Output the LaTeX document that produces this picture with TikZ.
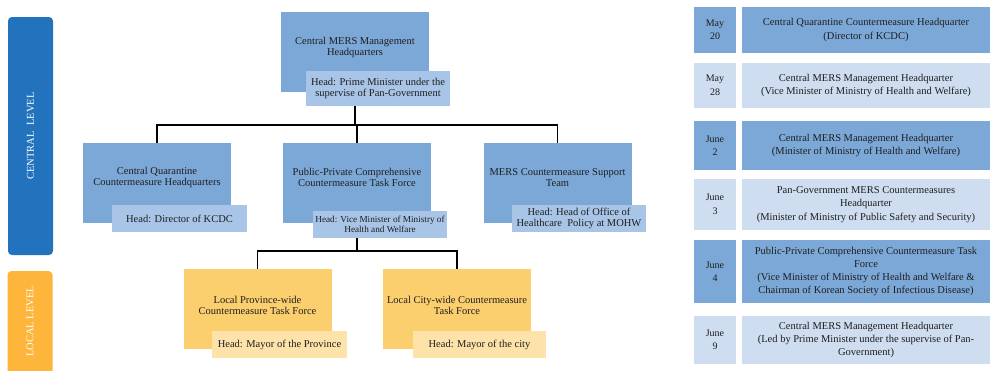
\documentclass[tikz,border=0pt]{standalone}
\usepackage{fontspec}
\setmainfont{Liberation Serif}
\definecolor{mainblue}{HTML}{7CA8D8}
\definecolor{headblue}{HTML}{A8C5E7}
\definecolor{lightrow}{HTML}{CEDDF0}
\definecolor{mainorange}{HTML}{FCCF6E}
\definecolor{headorange}{HTML}{FDE3AA}
\definecolor{sideblue}{HTML}{2372BE}
\definecolor{sideorange}{HTML}{FDB53B}
\definecolor{textc}{HTML}{1E1E1E}
\begin{document}
\begin{tikzpicture}[x=1pt,y=-1pt,
  mainbox/.style={draw=none,fill=mainblue,minimum width=148pt,minimum height=80pt,inner sep=0pt},
  orangebox/.style={mainbox,fill=mainorange},
  txt/.style={align=center,text=textc,inner sep=0pt,font=\fontsize{10.5}{11}\selectfont},
  headbox/.style={fill=headblue,inner sep=0pt,align=center,text=textc,minimum width=134pt,minimum height=27pt,font=\fontsize{10.5}{11.7}\selectfont},
  orangehead/.style={headbox,fill=headorange},
  sidebar/.style={draw=none,rounded corners=4pt,minimum width=45pt,inner sep=0pt},
  sidetxt/.style={rotate=90,text=white,inner sep=0pt,font=\fontsize{10.5}{12}\selectfont},
  datecell/.style={inner sep=0pt,minimum width=42pt,align=center,text=textc,font=\fontsize{10}{13.5}\selectfont},
  desccell/.style={inner sep=0pt,minimum width=248pt,align=center,text=textc,font=\fontsize{10.5}{13.3}\selectfont},
  conn/.style={line width=1.5pt,black}]
\clip (0,0) rectangle (990,370);
\fill[white] (0,0) rectangle (990,370);

% side bars
\node[sidebar,fill=sideblue,minimum height=238pt] (cbar) at (30.5,136) {};
\node[sidetxt] (ctxt) at (30.5,136) {CENTRAL\ \ LEVEL};
\node[sidebar,fill=sideorange,minimum height=109pt] (lbar) at (30,325.5) {};
\node[sidetxt] (ltxt) at (30,321.5) {LOCAL LEVEL};

% tree boxes
\node[mainbox] (top) at (355,52) {};
\node[txt] (toptxt) at (355,47) {Central MERS Management\\Headquarters};
\node[headbox,minimum width=144pt,minimum height=35pt] (tophead) at (378,88.5) {Head: Prime Minister under the\\supervise of Pan-Government};

\node[mainbox] (cq) at (157,183) {};
\node[txt] (cqtxt) at (157,177) {Central Quarantine\\Countermeasure Headquarters};
\node[headbox,minimum width=135pt] (cqhead) at (179.5,218.5) {Head: Director of KCDC};

\node[mainbox] (pp) at (357,183) {};
\node[txt] (pptxt) at (357,177) {Public-Private Comprehensive\\Countermeasure Task Force};
\node[headbox,font=\fontsize{9.2}{9.5}\selectfont] (pphead) at (380,224.5) {Head: Vice Minister of Ministry of\\Health and Welfare};

\node[mainbox] (ms) at (557.5,183) {};
\node[txt] (mstxt) at (557.5,177.5) {MERS Countermeasure Support\\Team};
\node[headbox] (mshead) at (579,218.5) {Head: Head of Office of\\Healthcare\ \ Policy at MOHW};

\node[orangebox] (lp) at (257.5,309) {};
\node[txt] (lptxt) at (257.5,305) {Local Province-wide\\Countermeasure Task Force};
\node[orangehead,minimum width=135pt] (lphead) at (279.5,344.5) {Head: Mayor of the Province};

\node[orangebox] (lc) at (457,309) {};
\node[txt] (lctxt) at (457,305) {Local City-wide Countermeasure\\Task Force};
\node[orangehead,minimum width=133pt] (lchead) at (479.5,344.5) {Head: Mayor of the city};

% connectors
\coordinate (j1) at (356,125);
\coordinate (j2) at (357,251);
\draw[conn] (tophead.south -| top.south) -- (top.south |- j1);
\draw[conn] (cq.north) -- (cq.north |- j1) -- (ms.north |- j1) -- (ms.north);
\draw[conn] (pp.north) -- (pp.north |- j1);
\draw[conn] (pphead.south -| pp.south) -- (pp.south |- j2);
\draw[conn] (lp.north) -- (lp.north |- j2) -- (lc.north |- j2) -- (lc.north);

% timeline table
\node[datecell,fill=mainblue,minimum height=46pt] (d1) at (715,30) {May\\20};
\node[desccell,fill=mainblue,minimum height=46pt] (t1) at (866,30) {Central Quarantine Countermeasure Headquarter\\(Director of KCDC)};
\node[datecell,fill=lightrow,minimum height=45pt] (d2) at (715,85.5) {May\\28};
\node[desccell,fill=lightrow,minimum height=45pt] (t2) at (866,85.5) {Central MERS Management Headquarter\\(Vice Minister of Ministry of Health and Welfare)};
\node[datecell,fill=mainblue,minimum height=49pt] (d3) at (715,145.5) {June\\2};
\node[desccell,fill=mainblue,minimum height=49pt] (t3) at (866,145.5) {Central MERS Management Headquarter\\(Minister of Ministry of Health and Welfare)};
\node[datecell,fill=lightrow,minimum height=51pt] (d4) at (715,204.5) {June\\3};
\node[desccell,fill=lightrow,minimum height=51pt] (t4) at (866,204.5) {Pan-Government MERS Countermeasures\\Headquarter\\(Minister of Ministry of Public Safety and Security)};
\node[datecell,fill=mainblue,minimum height=63pt] (d5) at (715,271.5) {June\\4};
\node[desccell,fill=mainblue,minimum height=63pt] (t5) at (866,271.5) {Public-Private Comprehensive Countermeasure Task\\Force\\(Vice Minister of Ministry of Health and Welfare \&\\Chairman of Korean Society of Infectious Disease)};
\node[datecell,fill=lightrow,minimum height=48pt] (d6) at (715,340) {June\\9};
\node[desccell,fill=lightrow,minimum height=48pt] (t6) at (866,340) {Central MERS Management Headquarter\\(Led by Prime Minister under the supervise of Pan-\\Government)};
\end{tikzpicture}
\end{document}
